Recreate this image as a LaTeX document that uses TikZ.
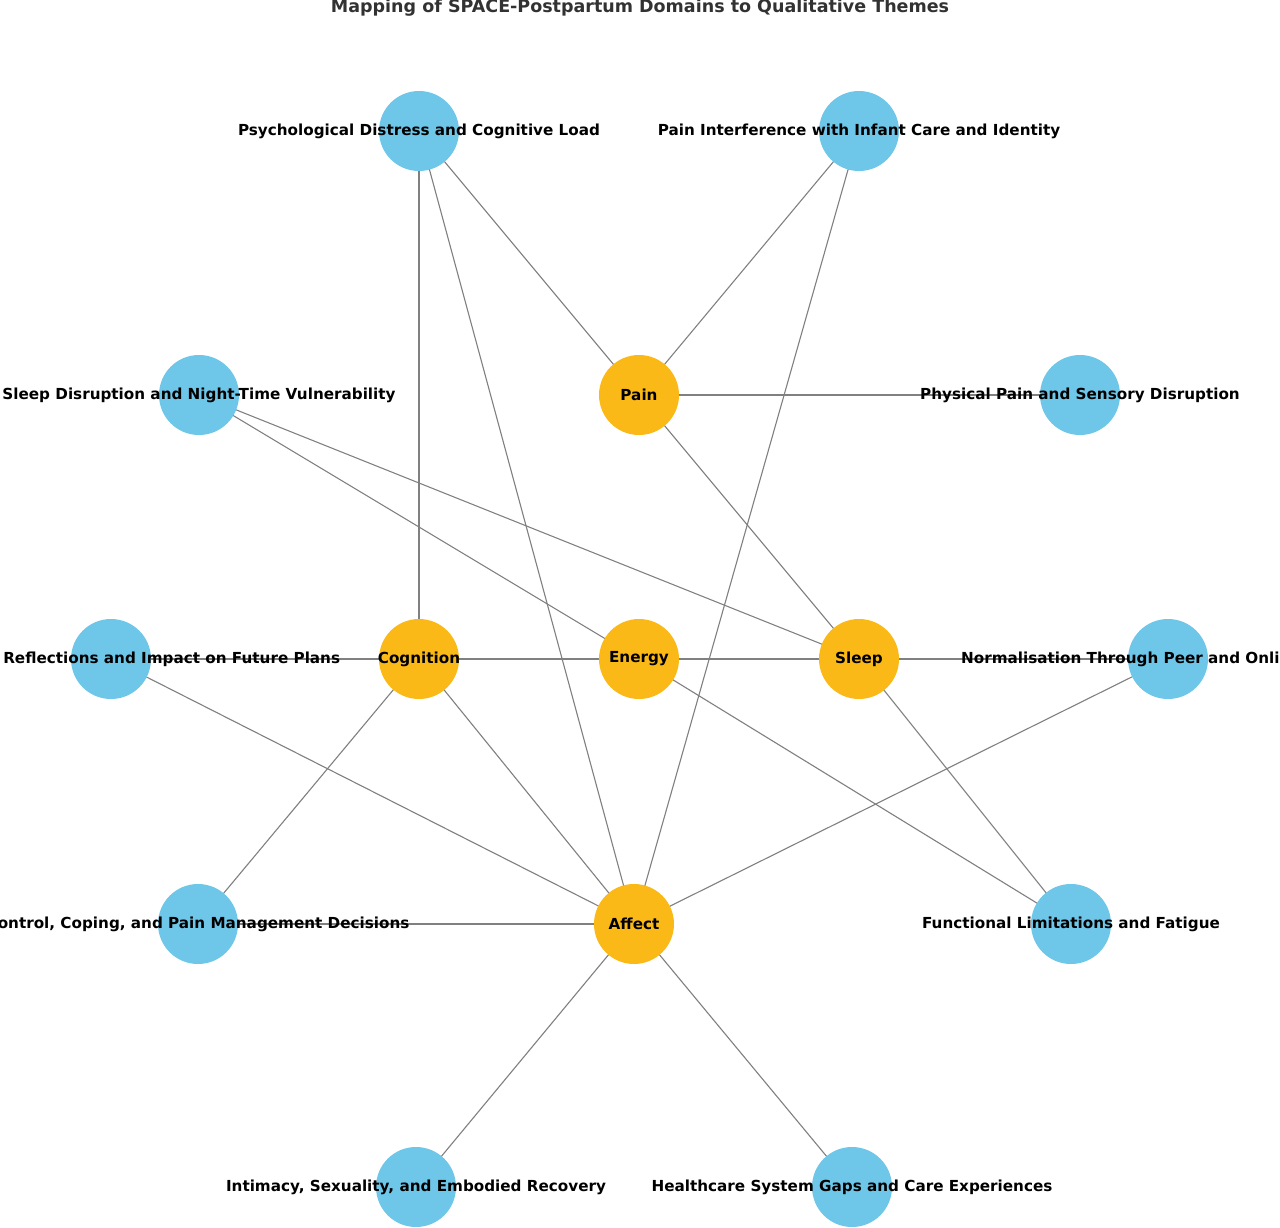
\documentclass[tikz,border=0pt]{standalone}
\usepackage{fontspec}
\setmainfont{DejaVu Sans}
\begin{document}
\begin{tikzpicture}[x=1pt,y=-1pt,
 th/.style={circle,fill={rgb,255:red,110;green,198;blue,232},minimum size=80pt,inner sep=0pt},
 dm/.style={circle,fill={rgb,255:red,251;green,185;blue,23},minimum size=80pt,inner sep=0pt},
 lab/.style={font=\fontsize{15.2}{17}\selectfont\bfseries,inner sep=0pt},
 ed/.style={draw={rgb,255:red,128;green,128;blue,128},line width=1.1pt}]
\useasboundingbox (0,0) rectangle (1280,1228);
\clip (0,0) rectangle (1280,1228);
\fill[white] (0,0) rectangle (1280,1228);
\coordinate (psy) at (419,131);
\coordinate (pin) at (859,131);
\coordinate (sld) at (199,395);
\coordinate (pain) at (639,395);
\coordinate (phy) at (1080,395);
\coordinate (ref) at (111,659);
\coordinate (cog) at (419,659);
\coordinate (ene) at (639,659);
\coordinate (slp) at (859,659);
\coordinate (nor) at (1168,659);
\coordinate (con) at (198,924);
\coordinate (aff) at (634,924);
\coordinate (fun) at (1071,924);
\coordinate (int) at (416,1187);
\coordinate (hea) at (852,1187);
\foreach \a/\b in {psy/cog,psy/aff,psy/pain,pin/pain,pin/aff,pain/phy,pain/slp,sld/ene,sld/slp,ref/aff,ref/cog,cog/ene,ene/slp,slp/nor,cog/con,cog/aff,ene/fun,slp/fun,nor/aff,con/aff,aff/int,aff/hea}
  \draw[ed] (\a) -- (\b);
\foreach \n/\c in {psy/th,pin/th,sld/th,phy/th,ref/th,nor/th,con/th,fun/th,int/th,hea/th,pain/dm,cog/dm,ene/dm,slp/dm,aff/dm}
  \node[\c] (c\n) at (\n) {};
\node[lab] (tpsy) at (psy) {Psychological Distress and Cognitive Load};
\node[lab] (tpin) at (pin) {Pain Interference with Infant Care and Identity};
\node[lab] (tsld) at (sld) {Sleep Disruption and Night-Time Vulnerability};
\node[lab] (tpain) at (pain) {Pain};
\node[lab] (tphy) at (phy) {Physical Pain and Sensory Disruption};
\node[lab] (tref) at (ref) {Birth/Feeding Reflections and Impact on Future Plans};
\node[lab] (tcog) at (cog) {Cognition};
\node[lab] (tene) at (ene) {Energy};
\node[lab] (tslp) at (slp) {Sleep};
\node[lab] (tnor) at (nor) {Normalisation Through Peer and Online Support};
\node[lab] (tcon) at (con) {Control, Coping, and Pain Management Decisions};
\node[lab] (taff) at (aff) {Affect};
\node[lab] (tfun) at (fun) {Functional Limitations and Fatigue};
\node[lab] (tint) at (int) {Intimacy, Sexuality, and Embodied Recovery};
\node[lab] (thea) at (hea) {Healthcare System Gaps and Care Experiences};
\node[lab,font=\fontsize{17.5}{19}\selectfont\bfseries,text={rgb,255:red,50;green,50;blue,50}] (title) at (640,8) {Mapping of SPACE-Postpartum Domains to Qualitative Themes};
\end{tikzpicture}
\end{document}
